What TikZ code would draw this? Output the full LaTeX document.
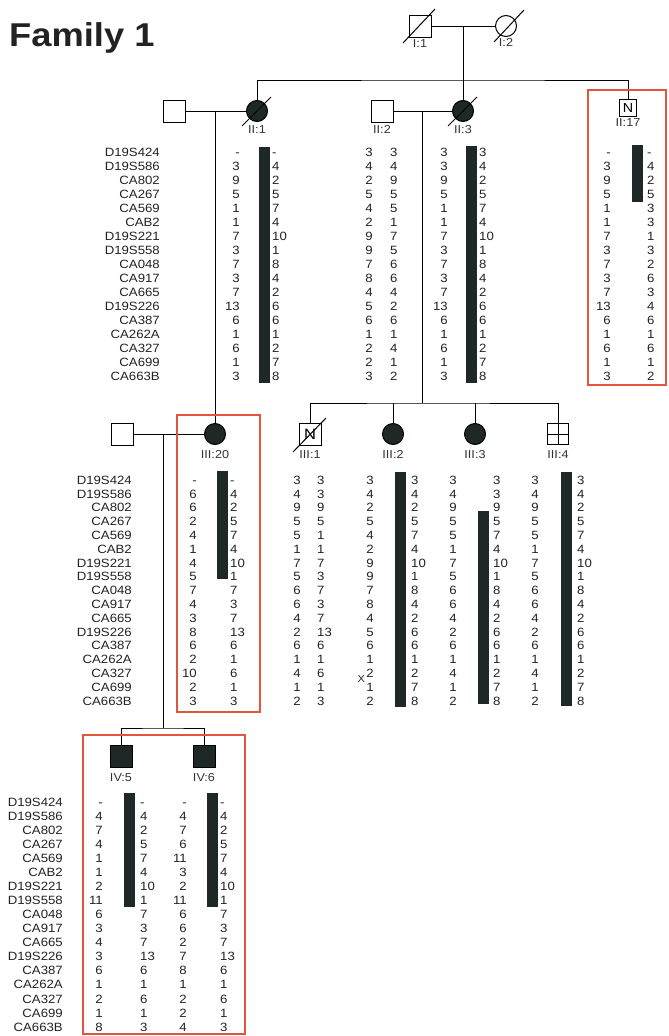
\documentclass[tikz,border=0pt]{standalone}
\usepackage{fontspec}
\setmainfont{Liberation Sans}[FakeStretch=1.1]
\usetikzlibrary{positioning}
\definecolor{hapdark}{HTML}{1E2826}
\definecolor{boxred}{HTML}{E0553B}
\definecolor{inkgray}{HTML}{222222}

% marker names, right aligned: #1 prefix, #2 right edge x, #3 first row y, #4 row gap
\newcommand{\markers}[4]{%
  \foreach \m [count=\i from 0] in {D19S424,D19S586,CA802,CA267,CA569,CAB2,D19S221,D19S558,CA048,CA917,CA665,D19S226,CA387,CA262A,CA327,CA699,CA663B}
    \node[allele,anchor=east] (#1\i) at (#2,#3+\i*#4) {\m};}
% two allele columns: #1 prefix, #2 left col right x, #3 right col left x, #4 first row y, #5 row gap, #6 left, #7 right
\newcommand{\haplotype}[7]{%
  \foreach \a [count=\i from 0] in {#6}
    \node[allele,anchor=east] (#1L\i) at (#2,#4+\i*#5) {\a};
  \foreach \a [count=\i from 0] in {#7}
    \node[allele,anchor=west] (#1R\i) at (#3,#4+\i*#5) {\a};}

\begin{document}
\begin{tikzpicture}[
  x=1pt,y=-1pt,
  male/.style={draw,rectangle,line width=1pt,minimum size=22pt,inner sep=0pt},
  female/.style={draw,circle,line width=1pt,minimum size=21pt,inner sep=0pt},
  aff/.style={fill=hapdark},
  idlab/.style={font=\fontsize{11.5}{12}\selectfont,text=black!80,inner sep=0pt},
  allele/.style={font=\fontsize{12}{13}\selectfont,text=inkgray,inner sep=0pt,text height=8.6pt,text depth=0pt},
  ped/.style={line width=1pt},
  dead/.style={line width=1pt},
  hapbar/.style={fill=hapdark},
  redbox/.style={draw=boxred,line width=1.8pt}
]
\useasboundingbox (0,0) rectangle (669,1036);

\node[font=\bfseries\fontsize{33}{35}\selectfont,text=inkgray,anchor=base west,inner sep=0pt] (title) at (9,46) {Family 1};

% generation I
\node[male] (I1) at (420,26) {};
\node[female] (I2) at (506,26) {};
\node[idlab,below=1.5pt of I1] (lI1) {I:1};
\node[idlab,below=1.5pt of I2] (lI2) {I:2};
\draw[dead] ([shift={(-17,17)}]I1.center) -- ([shift={(15,-17)}]I1.center);
\draw[dead] ([shift={(-12,16)}]I2.center) -- ([shift={(18,-16)}]I2.center);

% generation II
\node[male] (sp1) at (174,111) {};
\node[female,aff] (II1) at (257,111) {};
\node[male] (II2) at (382,111) {};
\node[female,aff] (II3) at (463,111) {};
\node[male,minimum size=17pt,font=\fontsize{13}{13}\selectfont] (II17) at (628,108) {N};
\node[idlab,below=3pt of II1] (lII1) {II:1};
\node[idlab,below=3pt of II2] (lII2) {II:2};
\node[idlab,below=3pt of II3] (lII3) {II:3};
\node[idlab,below=1.5pt of II17] (lII17) {II:17};
\draw[dead] ([shift={(-15,15)}]II1.center) -- ([shift={(14,-14)}]II1.center);
\draw[dead] ([shift={(-15,15)}]II3.center) -- ([shift={(14,-14)}]II3.center);

% generation III
\node[male] (sp3) at (122,434) {};
\node[female,aff] (III20) at (215,434) {};
\node[male,font=\fontsize{15}{15}\selectfont] (III1) at (310,434) {N};
\node[female,aff] (III2) at (393,434) {};
\node[female,aff] (III3) at (475,434) {};
\node[male,minimum size=21pt] (III4) at (558,434) {};
\draw[ped] (III4.north) -- (III4.south) (III4.west) -- (III4.east);
\node[idlab,below=5pt of III20] (lIII20) {III:20};
\node[idlab,below=5pt of III1] (lIII1) {III:1};
\node[idlab,below=5pt of III2] (lIII2) {III:2};
\node[idlab,below=5pt of III3] (lIII3) {III:3};
\node[idlab,below=5.5pt of III4] (lIII4) {III:4};
\draw[dead] ([shift={(-17,18)}]III1.center) -- ([shift={(16,-16)}]III1.center);

% generation IV
\node[male,aff] (IV5) at (121,756) {};
\node[male,aff] (IV6) at (204,756) {};
\node[idlab,below=6pt of IV5] (lIV5) {IV:5};
\node[idlab,below=6pt of IV6] (lIV6) {IV:6};

% lines of descent
\coordinate (cI) at (463,26);
\coordinate (sibII) at (463,80);
\coordinate (cII1) at (215,111);
\coordinate (cII3) at (422,111);
\coordinate (sibIII) at (422,403);
\coordinate (cIII20) at (163,434);
\coordinate (sibIV) at (163,728);
\draw[ped] (I1) -- (I2);
\draw[ped] (cI) -- (II3);
\draw[ped] (II1) |- (sibII) -| (II17);
\draw[ped] (sp1) -- (II1);
\draw[ped] (II2) -- (II3);
\draw[ped] (cII1) -- (III20);
\draw[ped] (cII3) -- (sibIII);
\draw[ped] (III1) |- (sibIII) -| (III4);
\draw[ped] (III2 |- sibIII) -- (III2);
\draw[ped] (III3 |- sibIII) -- (III3);
\draw[ped] (sp3) -- (III20);
\draw[ped] (cIII20) -- (sibIV);
\draw[ped] (IV5) |- (sibIV) -| (IV6);

% haplotypes, generation II
\fill[hapbar] (258.5,147) rectangle (269.5,383);
\fill[hapbar] (465.5,146) rectangle (476.5,383);
\fill[hapbar] (631.5,145) rectangle (642.5,202);
\markers{mkII}{160}{152}{14}
\haplotype{hII1}{240}{272}{152}{14}{-,3,9,5,1,1,7,3,7,3,7,13,6,1,6,1,3}{-,4,2,5,7,4,10,1,8,4,2,6,6,1,2,7,8}
\haplotype{hII2}{373}{390}{152}{14}{3,4,2,5,4,2,9,9,7,8,4,5,6,1,2,2,3}{3,4,9,5,5,1,7,5,6,6,4,2,6,1,4,1,2}
\haplotype{hII3}{448}{479}{152}{14}{3,3,9,5,1,1,7,3,7,3,7,13,6,1,6,1,3}{3,4,2,5,7,4,10,1,8,4,2,6,6,1,2,7,8}
\haplotype{hII17}{611}{647}{152}{14}{-,3,9,5,1,1,7,3,7,3,7,13,6,1,6,1,3}{-,4,2,5,3,3,1,3,2,6,3,4,6,1,6,1,2}

% haplotypes, generation III
\fill[hapbar] (216.5,471) rectangle (227.5,579);
\fill[hapbar] (394.5,472) rectangle (405.5,707);
\fill[hapbar] (477.5,511) rectangle (488.5,704);
\fill[hapbar] (560.5,472) rectangle (571.5,706);
\markers{mkIII}{132}{480}{13.8}
\haplotype{hIII20}{197}{230}{480}{13.8}{-,6,6,2,4,1,4,5,7,4,3,8,6,2,10,2,3}{-,4,2,5,7,4,10,1,7,3,7,13,6,1,6,1,3}
\haplotype{hIII1}{301}{317}{480}{13.8}{3,4,9,5,5,1,7,5,6,6,4,2,6,1,4,1,2}{3,3,9,5,1,1,7,3,7,3,7,13,6,1,6,1,3}
\haplotype{hIII2}{374}{411}{480}{13.8}{3,4,2,5,4,2,9,9,7,8,4,5,6,1,2,1,2}{3,4,2,5,7,4,10,1,8,4,2,6,6,1,2,7,8}
\haplotype{hIII3}{457}{493}{480}{13.8}{3,4,9,5,5,1,7,5,6,6,4,2,6,1,4,1,2}{3,3,9,5,7,4,10,1,8,4,2,6,6,1,2,7,8}
\haplotype{hIII4}{539}{577}{480}{13.8}{3,4,9,5,5,1,7,5,6,6,4,2,6,1,4,1,2}{3,4,2,5,7,4,10,1,8,4,2,6,6,1,2,7,8}
\node[allele,font=\fontsize{10}{10}\selectfont,left=1pt of hIII2L14.south west] (xover) {X};

% haplotypes, generation IV
\fill[hapbar] (123.5,793) rectangle (134.5,907);
\fill[hapbar] (206.5,793) rectangle (217.5,907);
\markers{mkIV}{63}{802}{14.05}
\haplotype{hIV5}{103}{140}{802}{14.05}{-,4,7,4,1,1,2,11,6,3,4,3,6,1,2,1,8}{-,4,2,5,7,4,10,1,7,3,7,13,6,1,6,1,3}
\haplotype{hIV6}{187}{220}{802}{14.05}{-,4,7,6,11,3,2,11,6,6,2,7,8,1,2,2,4}{-,4,2,5,7,4,10,1,7,3,7,13,6,1,6,1,3}

% highlighted individuals
\draw[redbox] (588,90) rectangle (666,385);
\draw[redbox] (177,415) rectangle (260,712);
\draw[redbox] (83,735) rectangle (245,1034);
\end{tikzpicture}
\end{document}
